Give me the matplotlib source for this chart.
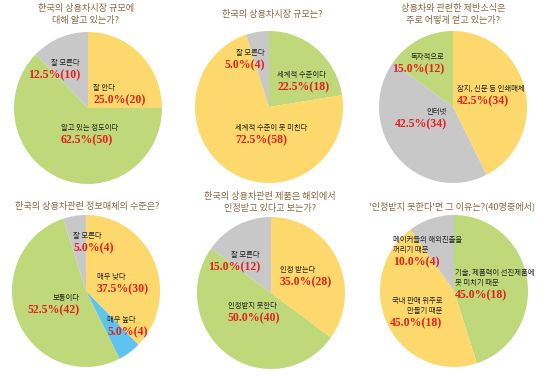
import matplotlib
matplotlib.use("Agg")
import matplotlib.pyplot as plt

# ---------------- data ----------------
titles = [
    "한국의 상용차시장 규모에\n대해 알고 있는가?",
    "한국의 상용차시장 규모는?",
    "상용차와 관련한 제반소식은\n주로 어떻게 얻고 있는가?",
    "한국의 상용차관련 정보매체의 수준은?",
    "한국의 상용차관련 제품은 해외에서\n인정받고 있다고 보는가?",
    "'인정받지 못한다'면 그 이유는?(40명중에서)",
]
labels1 = ["잘 안다", "알고 있는 정도이다", "잘 모른다"]
counts1 = [20, 50, 10]
labels2 = ["세계적 수준이다", "세계적 수준이 못 미친다", "잘 모른다"]
counts2 = [18, 58, 4]
labels3 = ["잡지, 신문 등 인쇄매체", "인터넷", "독자적으로"]
counts3 = [34, 34, 12]
labels4 = ["매우 낮다", "매우 높다", "보통이다", "잘 모른다"]
counts4 = [30, 4, 42, 4]
labels5 = ["인정 받는다", "인정받지 못한다", "잘 모른다"]
counts5 = [28, 40, 12]
labels6 = ["기술, 제품력이 선진제품에\n못 미치기 때문", "국내 판매 위주로\n만들기 때문",
           "메이커들의 해외진출을\n꺼리기 때문"]
counts6 = [18, 18, 4]

# ---------------- style / layout ----------------
YEL, GRN, GRY, BLU = "#FDD96D", "#BFD879", "#C8C8C8", "#5EC3EE"
colors = [[YEL, GRN, GRY], [GRN, YEL, GRY], [YEL, GRY, GRN],
          [YEL, BLU, GRN, GRY], [YEL, GRN, GRY], [GRN, YEL, GRY]]
W, H = 550, 376
centers = [(88, 108), (269, 107), (453, 107), (86, 291), (271, 293), (454, 291)]
RX, RY = 74, 76
# title: (x center, y of first line center)
title_pos = [(86, 8), (272, 15), (453, 8), (87, 206), (270, 196), (452, 206)]
TITLE_STEP = 12.5
# label anchors: (x, y of first text line, ha)
label_pos = [
    [(93, 88, "left"), (61, 128, "left"), (80, 63, "right")],
    [(277, 75, "left"), (235, 128, "left"), (265, 53, "right")],
    [(457, 89, "left"), (447, 112, "right"), (444, 57, "right")],
    [(97, 277, "left"), (107, 320, "left"), (80, 298, "right"), (73, 236, "left")],
    [(280, 270, "left"), (228, 306, "left"), (260, 255, "right")],
    [(455, 273, "left"), (442, 301, "right"), (393, 240, "left")],
]
KFONT = ["Noto Sans CJK KR", "DejaVu Sans"]
TITLE_C = "#8A6A40"
RED = "#E3211C"

fig = plt.figure(figsize=(W / 100, H / 100), dpi=100)
fig.patch.set_facecolor("white")

all_labels = [labels1, labels2, labels3, labels4, labels5, labels6]
all_counts = [counts1, counts2, counts3, counts4, counts5, counts6]


def fx(px):
    return px / W


def fy(py):
    return 1 - py / H


for i in range(6):
    cx, cy = centers[i]
    ax = fig.add_axes([fx(cx - RX), fy(cy + RY), 2 * RX / W, 2 * RY / H])
    ax.pie(all_counts[i], colors=colors[i], startangle=90, counterclock=False,
           radius=1, wedgeprops=dict(linewidth=0))
    ax.set_aspect("auto")
    ax.set_xlim(-1, 1)
    ax.set_ylim(-1, 1)
    ax.axis("off")

    tx, ty = title_pos[i]
    for k, line in enumerate(titles[i].split("\n")):
        fig.text(fx(tx), fy(ty + k * TITLE_STEP), line, ha="center", va="center",
                 family=KFONT, fontsize=6.6, color=TITLE_C)

    total = sum(all_counts[i])
    for lab, c, (lx, ly, ha) in zip(all_labels[i], all_counts[i], label_pos[i]):
        lines = lab.split("\n")
        for k, line in enumerate(lines):
            fig.text(fx(lx), fy(ly + k * 10), line, ha=ha, va="center",
                     family=KFONT, fontsize=5.3, color="#222222")
        vy = ly + 12.5 + (len(lines) - 1) * 10
        fig.text(fx(lx), fy(vy), f"{100 * c / total:.1f}%({c})", ha=ha,
                 va="center", family="Liberation Serif", fontweight="bold",
                 fontsize=8.5, color=RED)

fig.savefig("out.png", dpi=100, facecolor="white")
